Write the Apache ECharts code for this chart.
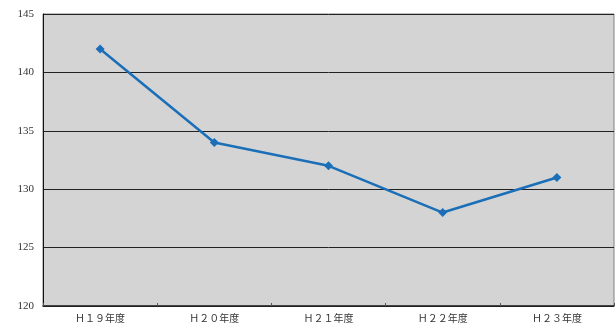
<!DOCTYPE html>
<html>
<head>
<meta charset="utf-8">
<script src="https://cdn.jsdelivr.net/npm/echarts@6/dist/echarts.min.js"></script>
<style>
html,body{margin:0;padding:0;background:#fff;}
#chart{width:616px;height:329px;}
</style>
</head>
<body>
<div id="chart"></div>
<script>
// Fiscal years (Heisei) and the yearly values
var categories = ['Ｈ１９年度', 'Ｈ２０年度', 'Ｈ２１年度', 'Ｈ２２年度', 'Ｈ２３年度'];
var values = [142, 134, 132, 128, 131];
var yTicks = { min: 120, max: 145, interval: 5 };

var chart = echarts.init(document.getElementById('chart'));
chart.setOption({
  animation: false,
  grid: {
    left: 43, right: 2, top: 14, bottom: 23,
    show: true, backgroundColor: '#d4d4d4', borderColor: '#808080', borderWidth: 1
  },
  xAxis: {
    type: 'category',
    data: categories,
    boundaryGap: true,
    axisLine: { lineStyle: { color: '#222', width: 1.5 } },
    axisTick: { show: true, inside: true, length: 3, lineStyle: { color: '#555' } },
    axisLabel: {
      color: '#333', fontSize: 10, margin: 7,
      fontFamily: '"Noto Sans CJK JP", sans-serif'
    },
    splitLine: { show: false }
  },
  yAxis: {
    type: 'value',
    min: yTicks.min, max: yTicks.max, interval: yTicks.interval,
    axisLine: { show: true, lineStyle: { color: '#111', width: 1 } },
    axisTick: { show: false },
    axisLabel: {
      color: '#333', fontSize: 11, margin: 9,
      fontFamily: '"Liberation Serif", "DejaVu Serif", serif'
    },
    splitLine: { show: true, lineStyle: { color: '#222', width: 1 } }
  },
  series: [{
    type: 'line',
    data: values,
    symbol: 'diamond',
    symbolSize: 9,
    lineStyle: { color: '#1a6fb8', width: 2.5 },
    itemStyle: { color: '#1a6fb8' }
  }]
});
</script>
</body>
</html>
